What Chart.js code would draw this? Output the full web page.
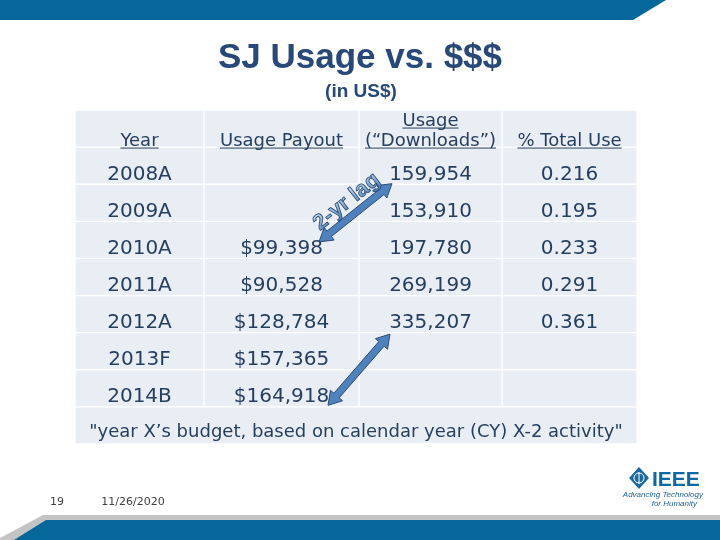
<!DOCTYPE html>
<html>
<head>
<meta charset="utf-8">
<title>SJ Usage vs. $$$</title>
<script src="https://cdn.jsdelivr.net/npm/chart.js@4.4.1/dist/chart.umd.min.js"></script>
<style>
  body { margin: 0; background: #fff; }
  #wrap { width: 720px; height: 540px; }
</style>
</head>
<body>
<div id="wrap"><canvas id="chart" width="720" height="540"></canvas></div>
<script>
// table values
const years = ['2008A', '2009A', '2010A', '2011A', '2012A', '2013F', '2014B'];
const payout = [null, null, 99398, 90528, 128784, 157365, 164918];
const downloads = [159954, 153910, 197780, 269199, 335207, null, null];
const totalUse = [0.216, 0.195, 0.233, 0.291, 0.361, null, null];
const headers = [['Year'], ['Usage Payout'], ['Usage', '(\u201cDownloads\u201d)'], ['% Total Use']];
const footNote = '"year X\u2019s budget, based on calendar year (CY) X-2 activity"';

// layout only (column widths in px of the table)
const colWidths = [129, 155, 143, 135];
const rowKeys = ['head', ...years, 'note'];
const tableWidth = colWidths.reduce((a, b) => a + b, 0);
const colEdges = colWidths.reduce((acc, w) => { acc.push(acc[acc.length - 1] + w); return acc; }, [0]);

const NAVY = '#263f5f';
const CELL = '#e9edf4';
const BLUE = '#05679a';
const TABLE_FONT = '"DejaVu Sans", Verdana, sans-serif';

const money = v => '$' + v.toLocaleString('en-US');
const count = v => v.toLocaleString('en-US');

const cellText = (col, i) => {
  if (col === 0) return years[i];
  if (col === 1) return payout[i] == null ? '' : money(payout[i]);
  if (col === 2) return downloads[i] == null ? '' : count(downloads[i]);
  return totalUse[i] == null ? '' : totalUse[i].toFixed(3);
};

// one stacked dataset per column, the note row is a single merged cell
const datasets = colWidths.map((w, c) => ({
  label: 'col' + c,
  data: rowKeys.map(k => k === 'note' ? (c === 0 ? tableWidth : null) : w),
  backgroundColor: CELL,
  borderColor: '#ffffff',
  borderWidth: 1,
  borderSkipped: false,
  barPercentage: 1,
  categoryPercentage: 1
}));

const slideFrame = {
  id: 'slideFrame',
  beforeDraw: (chart) => {
    const ctx = chart.ctx;
    ctx.save();
    ctx.fillStyle = '#ffffff';
    ctx.fillRect(0, 0, chart.width, chart.height);

    // top band
    ctx.fillStyle = BLUE;
    ctx.beginPath();
    ctx.moveTo(0, 0); ctx.lineTo(666, 0); ctx.lineTo(633, 20); ctx.lineTo(0, 20);
    ctx.closePath(); ctx.fill();

    // bottom band
    ctx.fillStyle = '#c4c4c4';
    ctx.beginPath();
    ctx.moveTo(43, 515); ctx.lineTo(720, 515); ctx.lineTo(720, 540); ctx.lineTo(0, 540); ctx.lineTo(0, 538);
    ctx.closePath(); ctx.fill();
    ctx.fillStyle = BLUE;
    ctx.beginPath();
    ctx.moveTo(46, 520); ctx.lineTo(720, 520); ctx.lineTo(720, 540); ctx.lineTo(14, 540);
    ctx.closePath(); ctx.fill();

    // title
    ctx.fillStyle = '#28487a';
    ctx.textAlign = 'center';
    ctx.textBaseline = 'alphabetic';
    ctx.font = 'bold 35px "Liberation Sans", Arial, sans-serif';
    ctx.fillText('SJ Usage vs. $$$', 360, 68);
    ctx.font = 'bold 19px "Liberation Sans", Arial, sans-serif';
    ctx.fillText('(in US$)', 361, 97);

    // footer
    ctx.fillStyle = '#404040';
    ctx.font = '11px ' + TABLE_FONT;
    ctx.fillText('19', 57, 505);
    ctx.fillText('11/26/2020', 133, 505);

    // IEEE logo
    ctx.fillStyle = '#1a69a0';
    ctx.beginPath();
    ctx.moveTo(639, 467); ctx.lineTo(649, 478); ctx.lineTo(639, 489); ctx.lineTo(629, 478);
    ctx.closePath(); ctx.fill();
    ctx.strokeStyle = '#ffffff';
    ctx.lineWidth = 1;
    ctx.beginPath(); ctx.arc(639, 478, 5, 0, Math.PI * 2); ctx.stroke();
    ctx.beginPath(); ctx.moveTo(639, 472); ctx.lineTo(639, 484); ctx.stroke();
    ctx.textAlign = 'left';
    ctx.fillStyle = '#0b69a3';
    ctx.font = 'bold 21px "Liberation Sans", Arial, sans-serif';
    ctx.fillText('IEEE', 652, 486);
    ctx.textAlign = 'right';
    ctx.fillStyle = '#1d5f96';
    ctx.font = 'italic 8px "Liberation Sans", Arial, sans-serif';
    ctx.fillText('Advancing Technology', 703, 497);
    ctx.fillText('for Humanity', 697, 506);
    ctx.restore();
  }
};

const underlined = (ctx, text, x, y) => {
  ctx.fillText(text, x, y);
  const w = ctx.measureText(text).width;
  ctx.fillRect(x - w / 2, y + 2, w, 1);
};

const cellLabels = {
  id: 'cellLabels',
  afterDatasetsDraw: (chart) => {
    const ctx = chart.ctx;
    ctx.save();
    ctx.fillStyle = NAVY;
    ctx.textAlign = 'center';
    ctx.textBaseline = 'alphabetic';
    colWidths.forEach((w, c) => {
      chart.getDatasetMeta(c).data.forEach((el, r) => {
        const key = rowKeys[r];
        if (key === 'note' && c !== 0) return;
        const cx = (el.x + el.base) / 2;
        const cy = el.y;
        if (key === 'head') {
          ctx.font = '18px ' + TABLE_FONT;
          const lines = headers[c];
          if (lines.length === 1) underlined(ctx, lines[0], cx, cy + 17);
          else { underlined(ctx, lines[0], cx, cy - 3); underlined(ctx, lines[1], cx, cy + 17); }
        } else if (key === 'note') {
          ctx.font = '18px ' + TABLE_FONT;
          ctx.fillText(footNote, cx, cy + 12);
        } else {
          ctx.font = '20px ' + TABLE_FONT;
          ctx.fillText(cellText(c, r - 1), cx, cy + 14);
        }
      });
    });
    ctx.restore();
  }
};

const drawArrow = (ctx, x0, y0, x1, y1) => {
  const len = Math.hypot(x1 - x0, y1 - y0);
  const ux = (x1 - x0) / len, uy = (y1 - y0) / len;
  const nx = -uy, ny = ux;
  const w = 3.5, H = 8, L = 13;
  const b0 = [x0 + ux * L, y0 + uy * L], b1 = [x1 - ux * L, y1 - uy * L];
  ctx.beginPath();
  ctx.moveTo(x0, y0);
  ctx.lineTo(b0[0] + nx * H, b0[1] + ny * H);
  ctx.lineTo(b0[0] + nx * w, b0[1] + ny * w);
  ctx.lineTo(b1[0] + nx * w, b1[1] + ny * w);
  ctx.lineTo(b1[0] + nx * H, b1[1] + ny * H);
  ctx.lineTo(x1, y1);
  ctx.lineTo(b1[0] - nx * H, b1[1] - ny * H);
  ctx.lineTo(b1[0] - nx * w, b1[1] - ny * w);
  ctx.lineTo(b0[0] - nx * w, b0[1] - ny * w);
  ctx.lineTo(b0[0] - nx * H, b0[1] - ny * H);
  ctx.closePath();
  ctx.fillStyle = '#4f81bd';
  ctx.fill();
  ctx.strokeStyle = '#2c4d75';
  ctx.lineWidth = 1;
  ctx.stroke();
};

// "2-yr lag" arrows: payout year X <-> downloads year X-2
const lagArrows = {
  id: 'lagArrows',
  afterDraw: (chart) => {
    const ctx = chart.ctx;
    const xs = chart.scales.x, ys = chart.scales.y;
    const px = (edge, dx) => xs.getPixelForValue(colEdges[edge]) + dx;
    const py = (key, dy) => ys.getPixelForValue(rowKeys.indexOf(key)) + dy;
    ctx.save();
    const a = [px(2, -40), py('2010A', 2), px(2, 33), py('2008A', 18)];
    drawArrow(ctx, ...a);
    drawArrow(ctx, px(2, 31), py('2012A', 20), px(2, -31), py('2014B', 17));

    // label along first arrow
    const ang = Math.atan2(a[3] - a[1], a[2] - a[0]);
    const mx = (a[0] + a[2]) / 2 + Math.sin(ang) * 14;
    const my = (a[1] + a[3]) / 2 - Math.cos(ang) * 14;
    ctx.translate(mx, my);
    ctx.rotate(ang);
    ctx.font = 'bold 22px "Liberation Sans", Arial, sans-serif';
    ctx.textAlign = 'center';
    ctx.textBaseline = 'middle';
    const g = ctx.createLinearGradient(0, -10, 0, 10);
    g.addColorStop(0, '#c6daf1');
    g.addColorStop(1, '#4f81bd');
    ctx.fillStyle = g;
    ctx.fillText('2-yr lag', 0, 0);
    ctx.strokeStyle = '#24466f';
    ctx.lineWidth = 0.8;
    ctx.strokeText('2-yr lag', 0, 0);
    ctx.restore();
  }
};

const chart = new Chart(document.getElementById('chart'), {
  type: 'bar',
  data: { labels: rowKeys, datasets },
  options: {
    indexAxis: 'y',
    responsive: false,
    animation: false,
    events: [],
    layout: { padding: { left: 75, right: 83, top: 110, bottom: 96 } },
    plugins: { legend: { display: false }, tooltip: { enabled: false }, title: { display: false } },
    scales: {
      x: { type: 'linear', stacked: true, min: 0, max: tableWidth, display: false },
      y: { type: 'category', stacked: true, offset: true, display: false }
    }
  },
  plugins: [slideFrame, cellLabels, lagArrows]
});
</script>
</body>
</html>
